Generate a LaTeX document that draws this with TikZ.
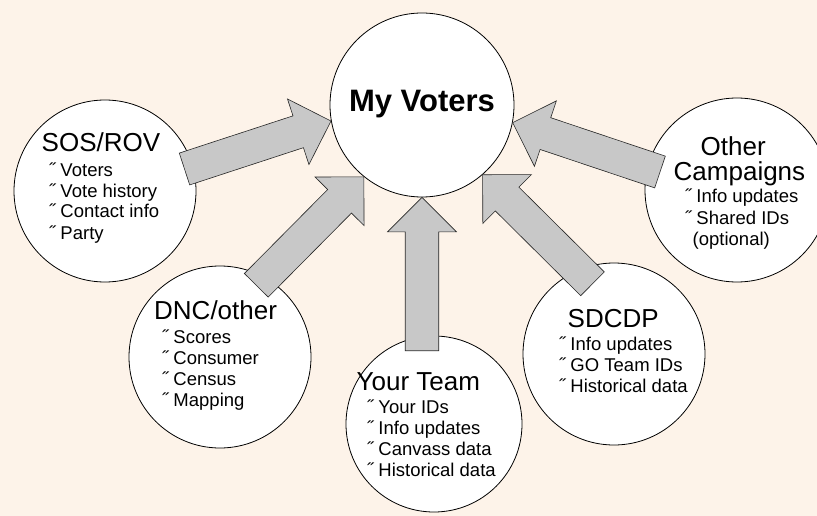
\documentclass[tikz,border=0pt]{standalone}
\usepackage{fontspec}
\setmainfont{Liberation Sans}
\usetikzlibrary{calc}
\definecolor{bg}{RGB}{253,243,233}
\definecolor{arrgray}{RGB}{200,200,200}
\tikzset{
  circ/.style={circle,draw=black,fill=white,line width=0.8pt,inner sep=0pt,minimum size=#1},
  ttl/.style={inner sep=0pt,anchor=base west,font=\fontsize{26}{30}\selectfont},
  bul/.style={inner sep=0pt,anchor=base west,font=\fontsize{18.5}{21}\selectfont},
  blk/.style={fill=arrgray,draw=black!85,line width=0.6pt,line join=miter}
}
% block arrow from tail #1 to tip #2
\newcommand{\blockarr}[2]{%
  \path ($(#2)!34.5pt!(#1)$) coordinate (hb);
  \draw[blk] ($(#1)!16.75pt!90:(#2)$) -- ($(hb)!16.75pt!-90:(#1)$) -- ($(hb)!34.5pt!-90:(#1)$)
    -- (#2) -- ($(hb)!34.5pt!90:(#1)$) -- ($(hb)!16.75pt!90:(#1)$) -- ($(#1)!16.75pt!-90:(#2)$) -- cycle;}
\begin{document}
\begin{tikzpicture}[x=1pt,y=-1pt]
\fill[bg] (0,0) rectangle (817,516);
\useasboundingbox (0,0) rectangle (817,516);
\clip (0,0) rectangle (817,516);
% circles
\node[circ=184pt] (mv) at (422,105) {};
\node[circ=182pt] (sos) at (105,191) {};
\node[circ=182pt] (dnc) at (220,357) {};
\node[circ=176pt] (team) at (434,424) {};
\node[circ=182pt] (sdcdp) at (614,354) {};
\node[circ=184pt] (other) at (737,190) {};
% arrow tails
\coordinate (t1) at (184.5,169);
\coordinate (t2) at (256.3,285.3);
\coordinate (t3) at (422,350.7);
\coordinate (t4) at (592.5,283.8);
\coordinate (t5) at (660,172);
\blockarr{t1}{mv.190.6}
\blockarr{t2}{mv.231.8}
\blockarr{t3}{mv.270}
\blockarr{t4}{mv.311.7}
\blockarr{t5}{mv.349.8}
% texts
\node[inner sep=0pt,anchor=base,font=\fontsize{31}{36}\selectfont\bfseries] (mvt) at (422,112) {My Voters};
\node[ttl] (sost) at (41.5,152) {SOS/ROV};
\foreach \t [count=\i] in {Voters,Vote history,Contact info,Party}
  \node[bul] (sos\i) at (49,{176+21*(\i-1)}) {˝ \t};
\node[ttl] (dnct) at (154,319) {DNC/other};
\foreach \t [count=\i] in {Scores,Consumer,Census,Mapping}
  \node[bul] (dnc\i) at (162,{343+21*(\i-1)}) {˝ \t};
\node[ttl] (teamt) at (356.5,390) {Your Team};
\foreach \t [count=\i] in {Your IDs,Info updates,Canvass data,Historical data}
  \node[bul] (team\i) at (367,{413+21.3*(\i-1)}) {˝ \t};
\node[ttl] (sdt) at (567.5,327) {SDCDP};
\foreach \t [count=\i] in {Info updates,GO Team IDs,Historical data}
  \node[bul] (sd\i) at (559,{350+21*(\i-1)}) {˝ \t};
\node[ttl] (oth1) at (700.5,156) {Other};
\node[ttl] (oth2) at (673.5,181) {Campaigns};
\node[bul] (oth3) at (685,203) {˝ Info updates};
\node[bul] (oth4) at (685,224) {˝ Shared IDs};
\node[bul] (oth5) at (692.5,245) {(optional)};
\end{tikzpicture}
\end{document}
